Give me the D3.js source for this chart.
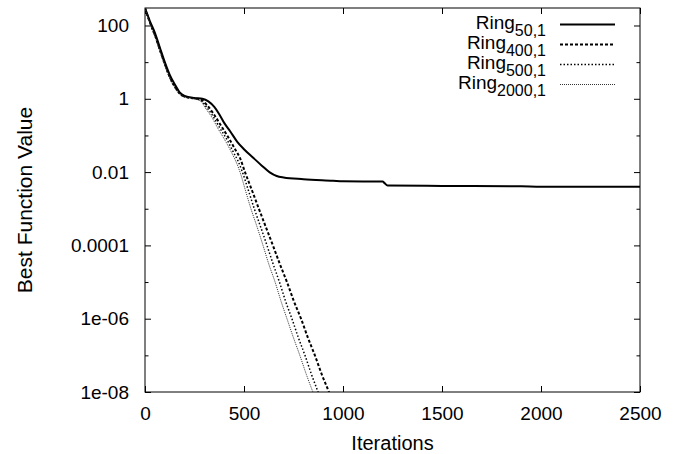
<!DOCTYPE html>
<html>
<head>
<meta charset="utf-8">
<script src="https://cdnjs.cloudflare.com/ajax/libs/d3/7.8.5/d3.min.js"></script>
<style>
body { margin: 0; background: #fff; }
text { font-family: "Liberation Sans", Arial, sans-serif; fill: #000; }
</style>
</head>
<body>
<div id="chart"></div>
<script>
var w = 678;
var h = 454;

// plot frame (gnuplot style)
var plotLeft = 145, plotRight = 640, plotTop = 8, plotBottom = 392;

// data
var ring50Iter = [0, 25, 50, 75, 100, 125, 150, 175, 200, 250, 290, 320, 350, 375, 400, 430, 465, 500, 545, 590, 630, 665, 700, 800, 950, 1000, 1200, 1210, 1225, 1500, 1900, 2000, 2500];
var ring50Val = [300, 130, 63, 25, 10, 4.5, 2.5, 1.5, 1.2, 1.05, 1.0, 0.85, 0.6, 0.38, 0.22, 0.13, 0.068, 0.042, 0.025, 0.015, 0.0098, 0.0078, 0.0071, 0.0064, 0.0058, 0.0056, 0.0055, 0.005, 0.0043, 0.0042, 0.0041, 0.004, 0.004];

var ring400Iter = [0, 25, 50, 75, 100, 125, 150, 175, 200, 250, 285, 315, 345, 380, 420, 455, 480, 505, 540, 575, 610, 646, 682, 717, 752, 788, 823, 858, 893, 929, 950];
var ring400Val = [300, 120, 55, 22, 9, 4, 2.2, 1.4, 1.15, 1.02, 0.93, 0.65, 0.4, 0.2, 0.09, 0.042, 0.024, 0.01, 0.0032, 0.001, 3.2e-4, 1e-4, 3e-5, 1e-5, 3e-6, 1e-6, 3e-7, 1e-7, 3e-8, 1e-8, 5e-9];

var ring500Iter = [0, 25, 50, 75, 100, 125, 150, 175, 200, 250, 282, 310, 340, 375, 415, 445, 470, 492, 522, 552, 584, 616, 648, 679, 710, 742, 775, 808, 841, 874, 895];
var ring500Val = [300, 118, 52, 21, 8.5, 3.8, 2.1, 1.38, 1.13, 1.01, 0.9, 0.6, 0.36, 0.17, 0.075, 0.036, 0.02, 0.01, 0.0032, 0.001, 3.2e-4, 1e-4, 3e-5, 1e-5, 3e-6, 1e-6, 3e-7, 1e-7, 3e-8, 1e-8, 5e-9];

var ring2000Iter = [0, 25, 50, 75, 100, 125, 150, 175, 200, 250, 280, 305, 335, 370, 410, 440, 462, 480, 507, 535, 566, 596, 626, 657, 687, 717, 750, 782, 815, 848, 870];
var ring2000Val = [300, 115, 50, 20, 8, 3.6, 2.0, 1.35, 1.12, 1.0, 0.88, 0.56, 0.33, 0.15, 0.065, 0.032, 0.018, 0.01, 0.0032, 0.001, 3.2e-4, 1e-4, 3e-5, 1e-5, 3e-6, 1e-6, 3e-7, 1e-7, 3e-8, 1e-8, 5e-9];

var xTicks = [0, 500, 1000, 1500, 2000, 2500];
var yTicks = [100, 1, 0.01, 0.0001, 1e-6, 1e-8];
var yTickLabels = ["100", "1", "0.01", "0.0001", "1e-06", "1e-08"];
var yMinorTicks = [10, 0.1, 0.001, 1e-5, 1e-7];

var seriesNames = ["50,1", "400,1", "500,1", "2000,1"];

var series = [
    { sub: seriesNames[0], iter: ring50Iter, val: ring50Val, width: 2, dash: null, color: "#000" },
    { sub: seriesNames[1], iter: ring400Iter, val: ring400Val, width: 2, dash: "3,2", color: "#000" },
    { sub: seriesNames[2], iter: ring500Iter, val: ring500Val, width: 1.5, dash: "1.5,2", color: "#000" },
    { sub: seriesNames[3], iter: ring2000Iter, val: ring2000Val, width: 1, dash: "1,1", color: "#333" }
];

var svg = d3.select("#chart")
    .append("svg")
    .attr("width", w)
    .attr("height", h);

var xScale = d3.scaleLinear()
    .domain([0, 2500])
    .range([plotLeft, plotRight]);

var yScale = d3.scaleLog()
    .domain([1e-8, 300])
    .range([plotBottom, plotTop]);

svg.append("clipPath")
    .attr("id", "plotclip")
    .append("rect")
    .attr("x", plotLeft)
    .attr("y", plotTop)
    .attr("width", plotRight - plotLeft)
    .attr("height", plotBottom - plotTop);

// axes, ticks pointing inward
var styleAxis = function(g) {
    g.select(".domain").remove();
    g.selectAll(".tick line").attr("stroke", "#000");
    g.selectAll(".tick text").style("font-size", "19px").attr("fill", "#000");
};

svg.append("g")
    .attr("transform", "translate(" + plotLeft + ",0)")
    .call(d3.axisLeft(yScale).tickValues(yTicks)
        .tickFormat(function(d, i) { return yTickLabels[i]; })
        .tickSizeInner(-6).tickSizeOuter(0).tickPadding(16))
    .call(styleAxis);

svg.append("g")
    .attr("transform", "translate(" + plotLeft + ",0)")
    .call(d3.axisLeft(yScale).tickValues(yMinorTicks).tickFormat("")
        .tickSizeInner(-3.5).tickSizeOuter(0))
    .call(styleAxis);

svg.append("g")
    .attr("transform", "translate(" + plotRight + ",0)")
    .call(d3.axisRight(yScale).tickValues(yTicks).tickFormat("")
        .tickSizeInner(-6).tickSizeOuter(0))
    .call(styleAxis);

svg.append("g")
    .attr("transform", "translate(" + plotRight + ",0)")
    .call(d3.axisRight(yScale).tickValues(yMinorTicks).tickFormat("")
        .tickSizeInner(-3.5).tickSizeOuter(0))
    .call(styleAxis);

svg.append("g")
    .attr("transform", "translate(0," + plotBottom + ")")
    .call(d3.axisBottom(xScale).tickValues(xTicks).tickFormat(d3.format("d"))
        .tickSizeInner(-6).tickSizeOuter(0).tickPadding(15))
    .call(styleAxis);

svg.append("g")
    .attr("transform", "translate(0," + plotTop + ")")
    .call(d3.axisTop(xScale).tickValues(xTicks).tickFormat("")
        .tickSizeInner(-6).tickSizeOuter(0))
    .call(styleAxis);

// frame
svg.append("rect")
    .attr("x", plotLeft)
    .attr("y", plotTop)
    .attr("width", plotRight - plotLeft)
    .attr("height", plotBottom - plotTop)
    .attr("fill", "none")
    .attr("stroke", "#000")
    .attr("stroke-width", 1);

// axis titles
svg.append("text")
    .attr("x", (plotLeft + plotRight) / 2)
    .attr("y", 450)
    .attr("text-anchor", "middle")
    .style("font-size", "20px")
    .text("Iterations");

svg.append("text")
    .attr("transform", "translate(32," + ((plotTop + plotBottom) / 2) + ") rotate(-90)")
    .attr("text-anchor", "middle")
    .style("font-size", "21px")
    .text("Best Function Value");

// curves
var line = d3.line()
    .x(function(d) { return xScale(d[0]); })
    .y(function(d) { return yScale(d[1]); })
    .curve(d3.curveMonotoneX);

var curves = svg.append("g").attr("clip-path", "url(#plotclip)");

series.forEach(function(s) {
    var pts = s.iter.map(function(x, i) { return [x, s.val[i]]; });
    curves.append("path")
        .attr("d", line(pts))
        .attr("fill", "none")
        .attr("stroke", s.color)
        .attr("stroke-width", s.width)
        .attr("stroke-dasharray", s.dash);
});

// legend
var legend = svg.append("g");
series.forEach(function(s, i) {
    var ly = 24.5 + i * 20;
    var t = legend.append("text")
        .attr("x", 546)
        .attr("y", ly + 4)
        .attr("text-anchor", "end")
        .style("font-size", "19px");
    t.append("tspan").text("Ring");
    t.append("tspan")
        .attr("dy", 7)
        .style("font-size", "16px")
        .text(s.sub);
    legend.append("line")
        .attr("x1", 560)
        .attr("x2", 615)
        .attr("y1", ly)
        .attr("y2", ly)
        .attr("stroke", s.color)
        .attr("stroke-width", s.width)
        .attr("stroke-dasharray", s.dash);
});
</script>
</body>
</html>
